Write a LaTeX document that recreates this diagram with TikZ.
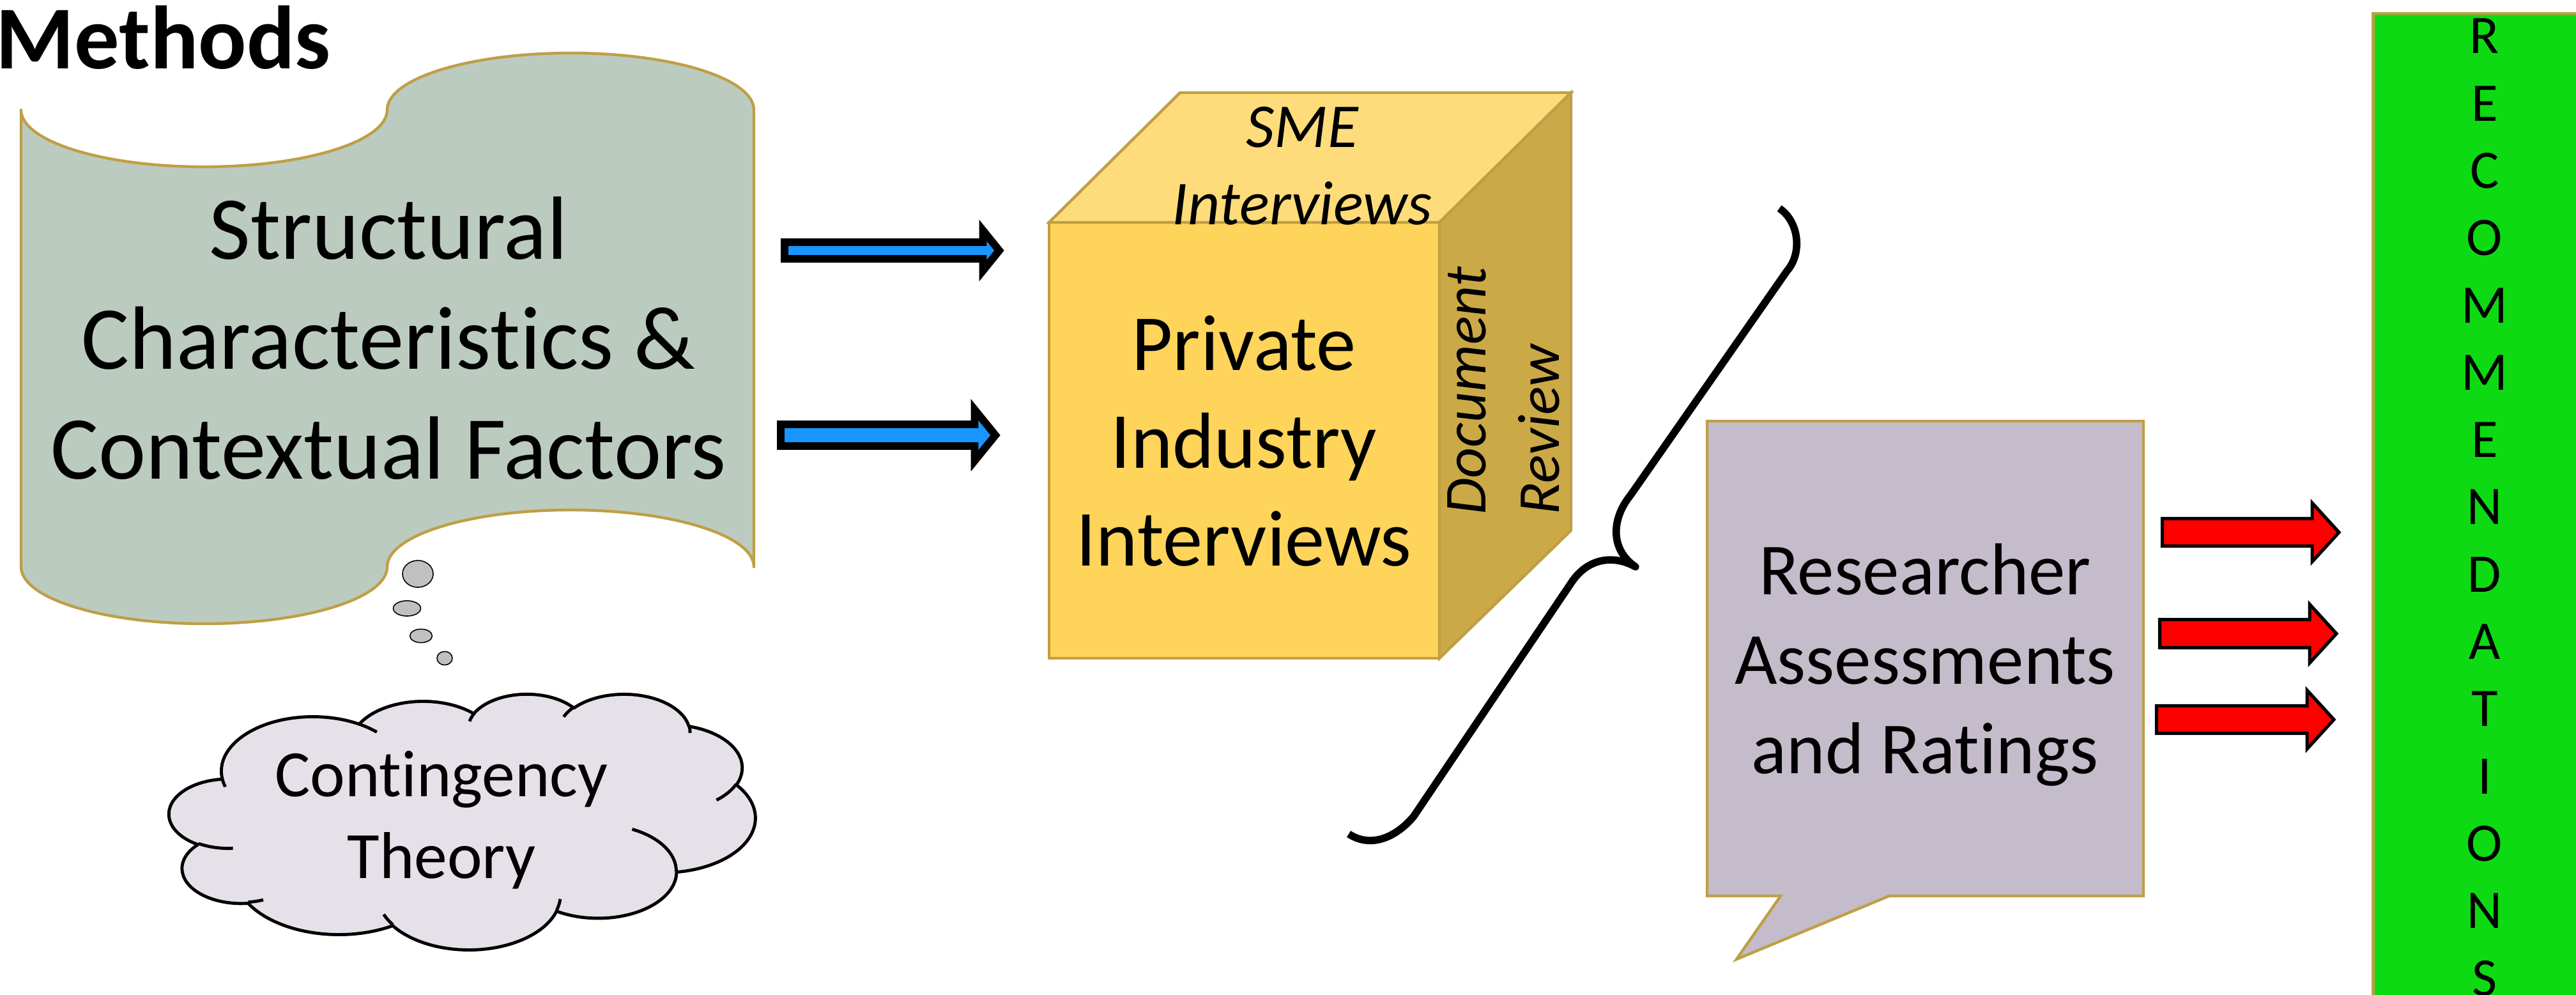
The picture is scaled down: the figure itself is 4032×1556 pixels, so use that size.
\documentclass[tikz,border=0pt]{standalone}
\usepackage{fontspec}
\setmainfont{Carlito}[Ligatures=NoCommon]

\definecolor{scrollfill}{HTML}{BBCBC0}
\definecolor{goldline}{HTML}{BF9F45}
\definecolor{cubefront}{HTML}{FFD45B}
\definecolor{cubetop}{HTML}{FFDC7B}
\definecolor{cubeside}{HTML}{CCA947}
\definecolor{cloudfill}{HTML}{E6E1E8}
\definecolor{bubblefill}{HTML}{C0C0C0}
\definecolor{arrowblue}{HTML}{1896FF}
\definecolor{speechfill}{HTML}{C4BCCA}
\definecolor{recgreen}{HTML}{0EDA14}

% DrawingML-style arc: radii wR,hR, visual start angle and sweep (degrees)
\newcommand\ooang[4]{%
  \pgfmathparse{atan2((#1)*sin(#3),(#2)*cos(#3))}\xdef\ooS{\pgfmathresult}%
  \pgfmathparse{atan2((#1)*sin((#3)+(#4)),(#2)*cos((#3)+(#4)))}\xdef\ooE{\pgfmathresult}%
  \pgfmathparse{mod(\ooE-\ooS+720,360)}\xdef\ooD{\pgfmathresult}%
}
\tikzset{
  ooarc/.style n args={4}{insert path={%
    \pgfextra{\ooang{#1}{#2}{#3}{#4}}
    arc[start angle=\ooS, delta angle=\ooD, x radius=#1, y radius=#2]}},
  goldedge/.style={draw=goldline, line width=1.25pt, line join=miter},
  bubble/.style={draw=black, fill=bubblefill, line width=0.45pt},
  brace/.style={draw=black, line width=3.3pt, line join=round},
  bluearrow/.style={draw=black, fill=arrowblue, line width=3.4pt, line join=miter},
  redarrow/.style={draw=black, fill=red, line width=1.45pt, line join=miter},
  txt/.style={inner sep=0pt, align=center},
}

% block arrow: style, tail x, tip x, centre y, shaft half, head half, head length
\newcommand\fatarrow[7]{%
  \draw[#1] (#2,#4-#5) -- (#3-#7,#4-#5) -- (#3-#7,#4-#6) -- (#3,#4)
    -- (#3-#7,#4+#6) -- (#3-#7,#4+#5) -- (#2,#4+#5) -- cycle;}

\begin{document}
\begin{tikzpicture}[x=0.1mm, y=-0.1mm]
\useasboundingbox (0,0) rectangle (4032,1556);
\fill[white] (0,0) rectangle (4032,1556);
\clip (0,0) rectangle (4032,1556);

% title
\node[txt, anchor=base west, font=\fontsize{40}{48}\selectfont\bfseries] (title) at (-7,107) {Methods};

% wavy banner
\draw[goldedge, fill=scrollfill, line join=round]
  (33,172) arc[start angle=180, end angle=0, x radius=286.5, y radius=89]
  arc[start angle=180, end angle=360, x radius=287, y radius=89]
  -- (1180,887)
  arc[start angle=0, end angle=-180, x radius=287, y radius=89]
  arc[start angle=0, end angle=180, x radius=286.5, y radius=89]
  -- cycle;
\node[txt, anchor=base, font=\fontsize{40}{48.9}\selectfont] (factors) at (608,749)
  {Structural\\Characteristics \&\\Contextual Factors};

% thought bubbles
\draw[bubble] (654,898) ellipse[x radius=24, y radius=21];
\draw[bubble] (637,952) ellipse[x radius=21.5, y radius=12];
\draw[bubble] (659,995) ellipse[x radius=17.4, y radius=10.6];
\draw[bubble] (696,1030) ellipse[x radius=12, y radius=10.6];

% cloud
\begin{scope}[shift={(265,1085)}, x=2.12269mm, y=-0.925926mm]
  \path[draw=black, fill=cloudfill, line width=1.4pt, line join=round]
    (3.9,14.37)
    [ooarc={6.753}{9.19}{-190.4875}{123.7805}]
    [ooarc={5.333}{7.267}{-144.1024}{89.9452}]
    [ooarc={4.365}{5.945}{-145.8079}{99.7230}]
    [ooarc={4.857}{6.595}{-130.9861}{117.2417}]
    [ooarc={5.333}{7.273}{-78.7089}{109.0269}]
    [ooarc={6.775}{9.22}{-46.2673}{130.2690}]
    [ooarc={5.785}{7.867}{0.6250}{114.0333}]
    [ooarc={6.752}{9.215}{22.4516}{115.1726}]
    [ooarc={7.72}{10.543}{66.2426}{75.7110}]
    [ooarc={4.36}{5.918}{-274.9421}{146.7356}]
    [ooarc={4.345}{5.945}{-246.8285}{152.5189}]
    -- cycle;
  \path[draw=black, line width=1.4pt]
    (4.693,26.177) [ooarc={4.345}{5.945}{86.7420}{26.4295}]
    (6.928,34.899) [ooarc={4.36}{5.918}{73.6105}{11.4475}]
    (16.478,39.09) [ooarc={6.752}{9.215}{137.6242}{14.0811}]
    (28.827,34.751) [ooarc={6.752}{9.215}{6.4533}{15.9984}]
    (34.129,22.954) [ooarc={5.785}{7.867}{-70.2924}{70.9174}]
    (41.798,15.354) [ooarc={5.333}{7.273}{30.3180}{27.7515}]
    (38.324,5.426) [ooarc={4.857}{6.595}{-13.7443}{14.8589}]
    (29.078,3.952) [ooarc={4.857}{6.595}{-149.1815}{18.1954}]
    (22.141,4.72) [ooarc={4.365}{5.945}{-163.4943}{17.6864}]
    (14.0,5.192) [ooarc={6.753}{9.19}{-66.7070}{12.3194}]
    (4.127,15.789) [ooarc={6.753}{9.19}{157.6544}{11.8582}];
\end{scope}
\node[txt, anchor=base, font=\fontsize{29.5}{36.4}\selectfont] (theory) at (691,1374)
  {Contingency\\Theory};

% blue block arrows
\fatarrow{bluearrow}{1228}{1564}{392}{13}{31.5}{25.5}
\fatarrow{bluearrow}{1222}{1558}{681}{17}{40}{32.5}

% cube
\draw[goldedge, fill=cubefront] (1642,348) rectangle (2253,1030);
\draw[goldedge, fill=cubetop] (1642,348) -- (1847,145) -- (2459,145) -- (2253,348) -- cycle;
\draw[goldedge, fill=cubeside] (2253,348) -- (2459,145) -- (2459,830) -- (2253,1030) -- cycle;
\node[txt, anchor=base, font=\fontsize{35.4}{43.5}\selectfont] (private) at (1947,885)
  {Private\\Industry\\Interviews};
\node[txt, anchor=base, font=\fontsize{27.8}{34.4}\selectfont\itshape] (sme) at (2038,351)
  {SME\\Interviews};
\node[inner sep=0pt, align=left, rotate=90, anchor=base west,
  font=\fontsize{26.5}{32.7}\selectfont\itshape] (docrev) at (2440,806)
  {Document\\Review};

% brace
\draw[brace] (2785,326) .. controls (2815,346) and (2822,395) .. (2797,424)
  -- (2552,775) .. controls (2522,812) and (2520,860) .. (2560,887)
  .. controls (2530,870) and (2490,870) .. (2462,908)
  -- (2213,1277) .. controls (2190,1305) and (2150,1330) .. (2111,1305);

% speech box
\draw[goldedge, fill=speechfill] (2672,659) -- (3355,659) -- (3355,1402) -- (2957,1402)
  -- (2718,1501) -- (2787,1402) -- (2672,1402) -- cycle;
\node[txt, anchor=base, font=\fontsize{32.7}{39.8}\selectfont] (ratings) at (3013,1210)
  {Researcher\\Assessments\\and Ratings};

% red block arrows
\fatarrow{redarrow}{3384.5}{3661}{833}{21.5}{46}{42}
\fatarrow{redarrow}{3380.5}{3657}{991.5}{22}{46}{42}
\fatarrow{redarrow}{3375.5}{3653}{1126}{21.5}{46}{42}

% recommendations bar
\draw[goldedge, fill=recgreen] (3714.5,21) rectangle (4120,1620);
\node[txt, anchor=base, font=\fontsize{24.2}{29.96}\selectfont] (recs) at (3889,1558)
  {R\\E\\C\\O\\M\\M\\E\\N\\D\\A\\T\\I\\O\\N\\S};
\end{tikzpicture}
\end{document}
